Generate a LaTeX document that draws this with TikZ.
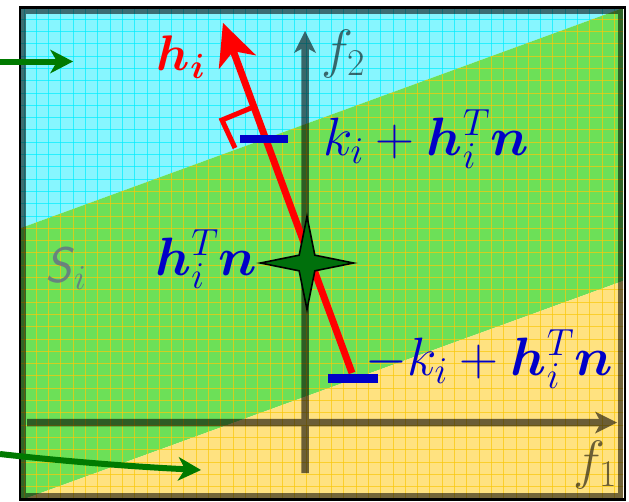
\RequirePackage{fix-cm}
\documentclass[tikz,border=0pt]{standalone}
\usepackage{bm}
\usetikzlibrary{arrows.meta,shapes.geometric}
\definecolor{cyanbg}{RGB}{135,246,255}
\definecolor{greenbg}{RGB}{108,224,88}
\definecolor{yellowbg}{RGB}{255,226,128}
\definecolor{gridcyan}{RGB}{0,238,255}
\definecolor{gridyel}{RGB}{250,200,10}
\definecolor{mblue}{RGB}{0,0,200}
\definecolor{mred}{RGB}{255,0,0}
\definecolor{dgreen}{RGB}{0,122,0}
\definecolor{stargreen}{RGB}{0,112,12}
\definecolor{sgray}{RGB}{100,100,140}
\tikzset{
  bigmath/.style={font=\fontsize{54}{60}\selectfont, inner sep=0pt},
  axisline/.style={line width=7.5pt, -{Stealth[length=22pt,width=22pt,inset=6pt,line width=0pt]}},
  garrow/.style={dgreen, line width=6pt, -{Stealth[length=23pt,width=24pt,inset=7pt,line width=0pt]}},
  harrow/.style={mred, line width=7pt, -{Stealth[length=42pt,width=40pt,inset=12pt,line width=0pt]}},
  ticklabel/.style={mblue, line width=8.5pt},
  gridline/.style={line width=1pt, opacity=0.7},
}
\begin{document}
\begin{tikzpicture}[x=1pt,y=-1pt]
\useasboundingbox (0,0) rectangle (629,501);
% frame corners and boundary lines
\coordinate (TL) at (21,9);
\coordinate (TR) at (623,9);
\coordinate (BR) at (623,498);
\coordinate (BL) at (21,498);
\coordinate (U1) at (21,228);
\coordinate (U2) at (620.5,9);
\coordinate (L1) at (27,498);
\coordinate (L2) at (623,281);
% regions
\fill[cyanbg] (TL) -- (U2) -- (U1) -- cycle;
\fill[greenbg] (U1) -- (U2) -- (TR) -- (L2) -- (L1) -- (BL) -- cycle;
\fill[yellowbg] (L1) -- (L2) -- (BR) -- cycle;
% grid texture
\begin{scope}
  \clip (TL) -- (U2) -- (U1) -- cycle;
  \foreach \k in {0,...,50} {\draw[gridline, gridcyan] (24+12.3*\k,0) -- (24+12.3*\k,501);}
  \foreach \k in {0,...,41} {\draw[gridline, gridcyan] (0,6.9+12.3*\k) -- (629,6.9+12.3*\k);}
\end{scope}
\begin{scope}
  \clip (U1) -- (U2) -- (TR) -- (BR) -- (BL) -- cycle;
  \foreach \k in {0,...,50} {\draw[gridline, gridyel] (24+12.3*\k,0) -- (24+12.3*\k,501);}
  \foreach \k in {0,...,41} {\draw[gridline, gridyel] (0,6.9+12.3*\k) -- (629,6.9+12.3*\k);}
\end{scope}
% frame
\draw[black, opacity=0.55, line width=5pt] (23.5,11.5) rectangle (620.5,495.5);
\draw[black, line width=2.5pt] (20,7.5) rectangle (625,499.5);
% axes
\coordinate (f2s) at (305,473);
\coordinate (f2e) at (305,31);
\coordinate (f1s) at (27,422.5);
\coordinate (f1e) at (617,422.5);
\begin{scope}[transparency group, opacity=0.58]
  \draw[axisline] (f2s) -- (f2e);
  \draw[axisline] (f1s) -- (f1e);
  \node[font=\fontsize{54}{60}\selectfont, inner sep=0pt] (f2lab) at (343,54) {$f_2$};
  \node[font=\fontsize{54}{60}\selectfont, inner sep=0pt] (f1lab) at (595,465) {$f_1$};
\end{scope}
% S_i
\node[sgray, opacity=0.75, bigmath, font=\fontsize{50}{56}\selectfont, anchor=base west] (slab) at (45,282) {\textsf{\textit{S}}$_i$};
% h_i vector
\coordinate (hs) at (352,373);
\coordinate (ht) at (223,23);
\draw[harrow] (hs) -- (ht);
\draw[mred, line width=5pt, line join=miter] (235,148) -- (222,120) -- (251,108);
\node[mred, font=\fontsize{50}{56}\selectfont, inner sep=0pt] (hlab) at (181,57) {$\bm{h}_{\bm{i}}$};
% ticks
\coordinate (t1a) at (240,139);
\coordinate (t1b) at (288,139);
\coordinate (t2a) at (328,378.5);
\coordinate (t2b) at (378,378.5);
\draw[ticklabel] (t1a) -- (t1b);
\draw[ticklabel] (t2a) -- (t2b);
% star
\node[star, star points=4, star point ratio=4.2, minimum size=93pt, inner sep=0pt, draw=black, line width=1.6pt, fill=stargreen] (star) at (307,263) {};
% labels
\node[mblue, bigmath, anchor=base west] (up) at (323,155) {$k_i+\bm{h}_i^T\bm{n}$};
\node[mblue, bigmath, anchor=base west] (mid) at (155,275) {$\bm{h}_i^T\bm{n}$};
\node[mblue, bigmath, anchor=base west] (low) at (365,375) {$-k_i+\bm{h}_i^T\bm{n}$};
% green arrows
\coordinate (g1s) at (0,61.5);
\coordinate (g1e) at (73,61.5);
\draw[garrow] (g1s) -- (g1e);
\coordinate (g2s) at (0,454);
\coordinate (g2e) at (201,470);
\draw[garrow] (g2s) .. controls (70,462) and (140,467) .. (g2e);
\end{tikzpicture}
\end{document}
